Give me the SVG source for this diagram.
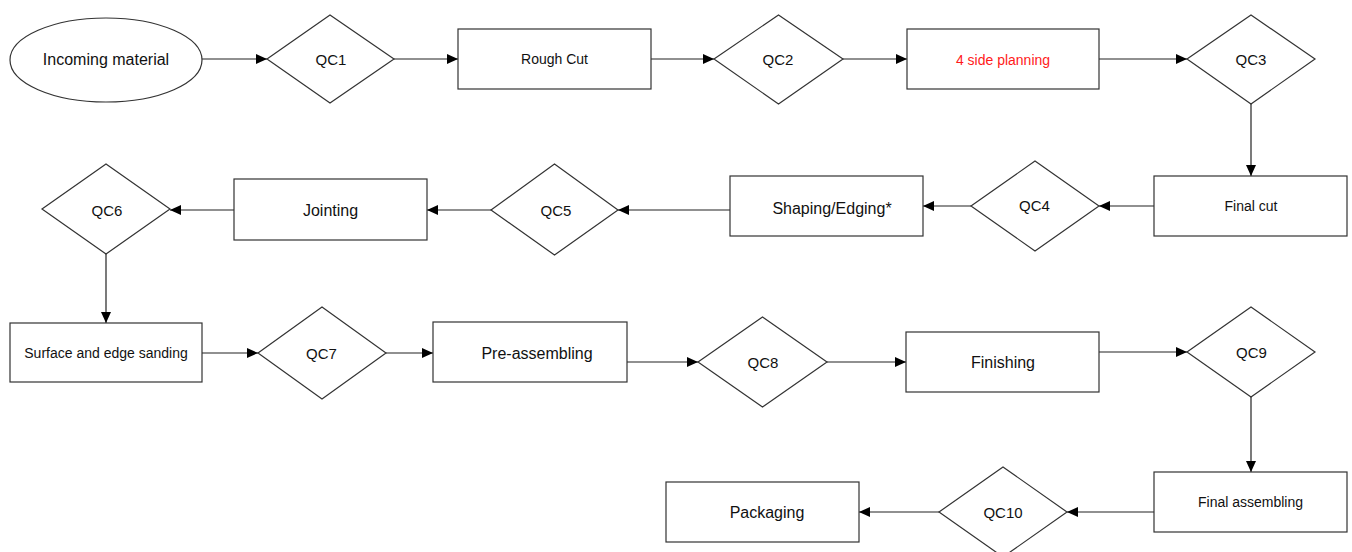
<svg xmlns="http://www.w3.org/2000/svg" width="1352" height="552" viewBox="0 0 1352 552">
<defs>
<style>
.n{fill:#fff;stroke:#333;stroke-width:1.2}
.t{font-family:"Liberation Sans",Arial,sans-serif;fill:#111;text-anchor:middle;dominant-baseline:central}
.s14{font-size:14px}.s15{font-size:15px}.s16{font-size:16px}
.red{fill:#ff1a1a}
.c{stroke:#222;stroke-width:1.2;fill:none;marker-end:url(#ah)}
</style>
<marker id="ah" markerUnits="userSpaceOnUse" markerWidth="12" markerHeight="10" refX="11" refY="5" orient="auto">
<path d="M0,0 L11,5 L0,10 Z" fill="#000"/>
</marker>
</defs>
<rect width="1352" height="552" fill="#fff"/>
<g id="connectors">
<line class="c" x1="202" y1="59" x2="267" y2="59"/>
<line class="c" x1="394" y1="59" x2="458" y2="59"/>
<line class="c" x1="651" y1="59" x2="714" y2="59"/>
<line class="c" x1="843" y1="59" x2="907" y2="59"/>
<line class="c" x1="1099" y1="59" x2="1187" y2="59"/>
<line class="c" x1="1251" y1="104" x2="1251" y2="176"/>
<line class="c" x1="1154" y1="206" x2="1099" y2="206"/>
<line class="c" x1="971" y1="206" x2="923" y2="206"/>
<line class="c" x1="730" y1="210" x2="618" y2="210"/>
<line class="c" x1="491" y1="210" x2="427" y2="210"/>
<line class="c" x1="234" y1="210" x2="170" y2="210"/>
<line class="c" x1="106" y1="254" x2="106" y2="323"/>
<line class="c" x1="202" y1="353" x2="258" y2="353"/>
<line class="c" x1="386" y1="353" x2="433" y2="353"/>
<line class="c" x1="627" y1="362" x2="698" y2="362"/>
<line class="c" x1="827" y1="362" x2="906" y2="362"/>
<line class="c" x1="1099" y1="352" x2="1187" y2="352"/>
<line class="c" x1="1251" y1="397" x2="1251" y2="472"/>
<line class="c" x1="1154" y1="512" x2="1067" y2="512"/>
<line class="c" x1="939" y1="512" x2="859" y2="512"/>
</g>
<g id="incoming"><ellipse class="n" cx="106" cy="60" rx="96" ry="42"/><text class="t s16" x="106" y="59">Incoming material</text></g>
<g id="qc1"><polygon class="n" points="267,59 330,15 394,59 330,103"/><text class="t s15" x="331" y="59">QC1</text></g>
<g id="roughcut"><rect class="n" x="458" y="29" width="193" height="60"/><text class="t s14" x="554.5" y="59">Rough Cut</text></g>
<g id="qc2"><polygon class="n" points="714,59 778.5,15 843,59 778.5,104"/><text class="t s15" x="778" y="59">QC2</text></g>
<g id="planning"><rect class="n" x="907" y="29" width="192" height="60"/><text class="t s14 red" x="1003" y="60">4 side planning</text></g>
<g id="qc3"><polygon class="n" points="1187,59 1251,15 1315,59 1251,104"/><text class="t s15" x="1251" y="59">QC3</text></g>
<g id="finalcut"><rect class="n" x="1154" y="176" width="193" height="60"/><text class="t s14" x="1251" y="206">Final cut</text></g>
<g id="qc4"><polygon class="n" points="971,206 1035,161 1099,206 1035,251"/><text class="t s15" x="1034.5" y="205">QC4</text></g>
<g id="shaping"><rect class="n" x="730" y="176" width="193" height="60"/><text class="t s16" x="832" y="208">Shaping/Edging*</text></g>
<g id="qc5"><polygon class="n" points="491,210 554.5,164 618,210 554.5,255"/><text class="t s15" x="556" y="210">QC5</text></g>
<g id="jointing"><rect class="n" x="234" y="179" width="193" height="61"/><text class="t s16" x="330.5" y="210">Jointing</text></g>
<g id="qc6"><polygon class="n" points="42,209 106,164 170,209 106,254"/><text class="t s15" x="107" y="210">QC6</text></g>
<g id="sanding"><rect class="n" x="10" y="323" width="192" height="59"/><text class="t s14" x="106" y="353">Surface and edge sanding</text></g>
<g id="qc7"><polygon class="n" points="258,353 322,307 386,353 322,399"/><text class="t s15" x="321.5" y="353">QC7</text></g>
<g id="preassembling"><rect class="n" x="433" y="322" width="194" height="60"/><text class="t s16" x="537" y="353">Pre-assembling</text></g>
<g id="qc8"><polygon class="n" points="698,362 762.5,317 827,362 762.5,407"/><text class="t s15" x="763" y="362">QC8</text></g>
<g id="finishing"><rect class="n" x="906" y="332" width="193" height="60"/><text class="t s16" x="1003" y="362">Finishing</text></g>
<g id="qc9"><polygon class="n" points="1187,352 1251,307 1315,352 1251,397"/><text class="t s15" x="1251.5" y="352">QC9</text></g>
<g id="finalassembling"><rect class="n" x="1154" y="472" width="193" height="60"/><text class="t s14" x="1250.5" y="502">Final assembling</text></g>
<g id="qc10"><polygon class="n" points="939,512 1003,467 1067,512 1003,557"/><text class="t s15" x="1003" y="512">QC10</text></g>
<g id="packaging"><rect class="n" x="666" y="482" width="193" height="60"/><text class="t s16" x="767" y="512">Packaging</text></g>
</svg>
